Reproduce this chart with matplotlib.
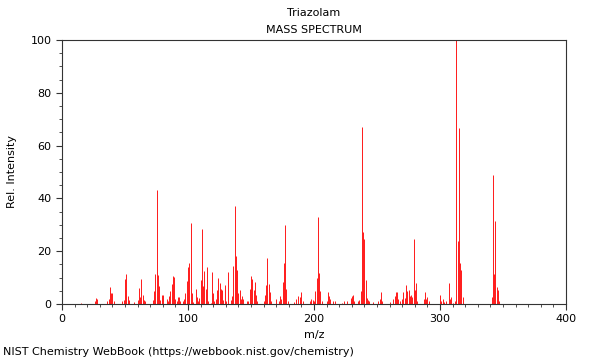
import matplotlib
matplotlib.use("Agg")
import matplotlib.pyplot as plt
from matplotlib.ticker import MultipleLocator

title = "Triazolam"
subtitle = "MASS SPECTRUM"
xlabel = "m/z"
ylabel = "Rel. Intensity"
footer = "NIST Chemistry WebBook (https://webbook.nist.gov/chemistry)"

mz = [15, 26, 27, 28,
      36, 37, 38, 39, 40, 41,
      48, 49, 50, 51, 52, 53,
      57, 60, 61, 62, 63, 64, 65, 66,
      72, 73, 74, 75, 76, 77, 78, 79, 80,
      83, 84, 85, 86, 87, 88, 89, 90, 91, 92, 93, 94,
      96, 97, 98, 99, 100, 101, 102, 103, 104,
      106, 107, 108, 109, 110, 111, 112, 113, 114, 115, 116,
      118, 119, 120, 121, 122, 123, 124, 125, 126, 127, 128, 129, 130,
      132, 134, 135, 136, 137, 138, 139, 140, 141, 142, 143, 144,
      147, 148, 149, 150, 151, 152, 153, 154, 155,
      160, 161, 162, 163, 164, 165, 166,
      170, 172, 173, 174, 175, 176, 177, 178, 179,
      184, 186, 187, 189, 190, 191,
      197, 198, 199, 200, 201, 202, 203, 204, 205, 206,
      210, 211, 212, 213, 215, 217, 222, 224, 226,
      229, 230, 231, 232, 235, 236, 237, 238, 239, 240, 241, 242, 243, 244, 247,
      251, 252, 253, 254,
      260, 263, 264, 265, 266, 267, 268,
      270, 271, 272, 273, 274, 275, 276, 277, 278, 279, 280, 281, 282,
      287, 288, 289, 290, 291,
      300, 301, 302, 303, 305, 307, 308, 309, 310, 312,
      313, 314, 315, 316, 317, 318,
      341, 342, 343, 344, 345, 346, 347]

intensity = [0.3, 1.0, 2.3, 1.9,
             1.0, 2.0, 6.3, 4.0, 4.0, 1.0,
             1.0, 1.5, 9.3, 11.4, 3.0, 1.5,
             0.8, 1.5, 6.0, 2.5, 9.3, 3.4, 1.5, 1.0,
             1.5, 4.9, 11.4, 43.2, 10.9, 6.8, 1.5, 3.4, 3.4,
             1.9, 1.0, 3.0, 5.0, 7.6, 10.6, 10.3, 2.0, 1.0, 2.8, 2.8, 1.0,
             1.0, 2.0, 4.2, 8.7, 14.0, 15.4, 30.8, 4.0, 0.8,
             5.5, 2.6, 1.0, 2.4, 9.0, 28.4, 7.0, 12.5, 5.7, 14.1, 1.0,
             0.5, 12.0, 4.0, 1.0, 2.0, 5.2, 9.8, 7.8, 5.5, 5.2, 1.6, 7.2, 1.0,
             12.0, 1.6, 3.0, 14.5, 37.2, 18.3, 12.8, 4.0, 5.3, 2.0, 3.2, 2.0,
             1.3, 1.3, 5.7, 10.6, 9.3, 5.3, 8.3, 3.4, 1.0,
             1.0, 3.4, 7.2, 17.4, 7.6, 4.4, 1.0,
             1.9, 1.0, 3.2, 2.0, 8.3, 15.4, 29.9, 5.8, 1.3,
             0.9, 2.0, 3.2, 2.6, 4.4, 1.0,
             1.3, 2.0, 1.5, 1.0, 5.0, 9.8, 33.1, 11.7, 4.8, 1.0,
             1.0, 4.4, 2.9, 2.0, 1.0, 1.3, 0.5, 1.3, 1.3,
             2.4, 3.2, 3.4, 1.3, 1.0, 1.5, 4.8, 67.0, 27.1, 24.5, 9.0, 2.4, 1.6, 1.0, 0.9,
             1.3, 2.0, 4.4, 1.0,
             0.9, 2.0, 3.2, 4.4, 4.4, 1.9, 1.3,
             2.0, 4.4, 2.4, 7.2, 4.8, 5.2, 3.2, 3.4, 2.6, 24.5, 5.3, 8.0, 1.3,
             1.9, 4.4, 1.9, 2.6, 1.0,
             3.4, 1.0, 2.0, 0.8, 1.0, 7.8, 2.0, 2.6, 0.5, 1.0,
             100.0, 24.0, 66.5, 15.5, 12.9, 2.8,
             2.8, 48.9, 11.4, 31.4, 6.6, 5.3, 1.0]

fig = plt.figure(figsize=(6, 3.6), dpi=100)
ax = fig.add_axes([62/600, 1-304/360, (566-62)/600, (304-40)/360])

ax.vlines(mz, 0, intensity, colors="#ff2020", linewidth=0.72)

ax.set_xlim(0, 400)
ax.set_ylim(0, 100)
ax.xaxis.set_major_locator(MultipleLocator(100))
ax.xaxis.set_minor_locator(MultipleLocator(10))
ax.yaxis.set_major_locator(MultipleLocator(20))
ax.yaxis.set_minor_locator(MultipleLocator(5))
ax.tick_params(axis="both", which="major", labelsize=8, length=4, width=0.8, color="#333333")
ax.tick_params(axis="both", which="minor", length=2.5, width=0.6, color="#333333")
for s in ax.spines.values():
    s.set_color("#333333")
    s.set_linewidth(0.8)

ax.set_xlabel(xlabel, fontsize=8, labelpad=4)
ax.set_ylabel(ylabel, fontsize=8, labelpad=10)

cx = (62 + 566) / 2 / 600
fig.text(cx, 1-13/360, title, ha="center", va="center", fontsize=8)
fig.text(cx, 1-30/360, subtitle, ha="center", va="center", fontsize=8)
fig.text(3/600, 1-352/360, footer, ha="left", va="center", fontsize=8)

fig.savefig("out.png", dpi=100)
